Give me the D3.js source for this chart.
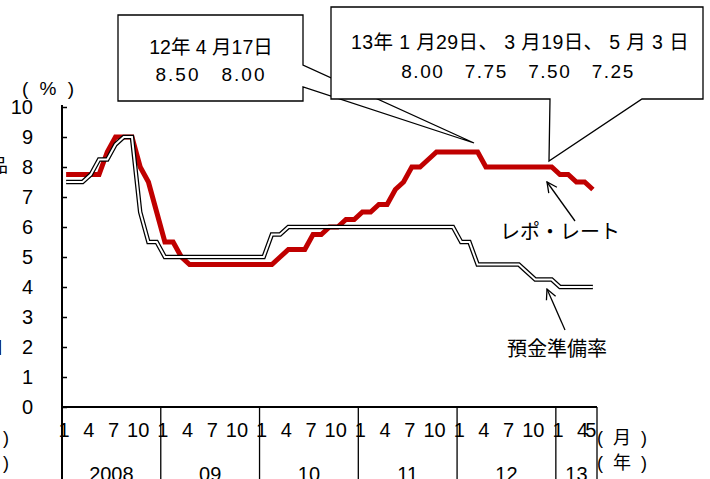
<!DOCTYPE html>
<html lang="ja">
<head>
  <meta charset="UTF-8">
  <title>レポ・レートと預金準備率</title>
  <style>
    body { margin: 0; background: #fff; }
    svg text { font-family: "Liberation Sans", Arial, "Noto Sans CJK JP", sans-serif; fill: #000; }
  </style>
</head>
<body>
  <div id="chart"></div>
  <script src="https://d3js.org/d3.v7.min.js"></script>
  <script>
    // monthly data, 2008/1 - 2013/5
    const years = ["2008", "09", "10", "11", "12", "13"];
    const monthTicks = [1, 4, 7, 10];
    const yTicks = [0, 1, 2, 3, 4, 5, 6, 7, 8, 9, 10];

    const repoRate = [
      7.75, 7.75, 7.75, 7.75, 7.75, 8.5, 9, 9, 9, 8, 7.5, 6.5,
      5.5, 5.5, 5, 4.75, 4.75, 4.75, 4.75, 4.75, 4.75, 4.75, 4.75, 4.75,
      4.75, 4.75, 5, 5.25, 5.25, 5.25, 5.75, 5.75, 6, 6, 6.25, 6.25,
      6.5, 6.5, 6.75, 6.75, 7.25, 7.5, 8, 8, 8.25, 8.5, 8.5, 8.5,
      8.5, 8.5, 8.5, 8, 8, 8, 8, 8, 8, 8, 8, 8,
      7.75, 7.75, 7.5, 7.5, 7.25
    ];
    const reserveRatio = [
      7.5, 7.5, 7.5, 7.75, 8.25, 8.25, 8.75, 9, 9, 6.5, 5.5, 5.5,
      5, 5, 5, 5, 5, 5, 5, 5, 5, 5, 5, 5,
      5, 5.75, 5.75, 6, 6, 6, 6, 6, 6, 6, 6, 6,
      6, 6, 6, 6, 6, 6, 6, 6, 6, 6, 6, 6,
      5.5, 5.5, 4.75, 4.75, 4.75, 4.75, 4.75, 4.75, 4.5, 4.25, 4.25, 4.25,
      4, 4, 4, 4, 4
    ];

    // build month list
    const months = repoRate.map((d, i) => ({ i: i, year: Math.floor(i / 12), month: i % 12 + 1 }));

    const width = 710, height = 479;
    const svg = d3.select("#chart").append("svg")
      .attr("width", width)
      .attr("height", height);

    const x = d3.scaleBand()
      .domain(months.map(d => d.i))
      .range([62, 597]);
    const y = d3.scaleLinear()
      .domain([0, 10])
      .range([407, 107]);
    const cx = i => x(i) + x.bandwidth() / 2;

    // y axis
    const yAxis = svg.append("g")
      .attr("transform", "translate(62,0)")
      .call(d3.axisRight(y).tickValues(yTicks).tickSize(5).tickFormat(""));
    yAxis.select(".domain").remove();
    yAxis.selectAll(".tick line").attr("stroke", "#000").attr("stroke-width", 1.5);

    svg.append("line")
      .attr("x1", 62).attr("x2", 62)
      .attr("y1", 105).attr("y2", height)
      .attr("stroke", "#000").attr("stroke-width", 2);

    svg.append("g").selectAll("text")
      .data(yTicks)
      .enter().append("text")
      .attr("x", 33)
      .attr("y", d => y(d) + 7)
      .attr("text-anchor", "end")
      .style("font-size", "20px")
      .text(d => d);

    svg.append("text")
      .attr("x", 22).attr("y", 95)
      .style("font-size", "19px")
      .style("letter-spacing", "3px")
      .text("( % )");

    // x axis: month labels and year blocks
    svg.append("line")
      .attr("x1", 62).attr("x2", 597)
      .attr("y1", y(0)).attr("y2", y(0))
      .attr("stroke", "#000").attr("stroke-width", 2);

    const yearStarts = years.map((d, k) => x(k * 12));
    const yearEnds = years.map((d, k) => k < years.length - 1 ? x((k + 1) * 12) : x.range()[1]);

    svg.append("g").selectAll("line")
      .data(yearStarts.concat([x.range()[1]]))
      .enter().append("line")
      .attr("x1", d => d).attr("x2", d => d)
      .attr("y1", y(0)).attr("y2", height)
      .attr("stroke", "#000").attr("stroke-width", 1.3);

    const monthLabels = months.filter(d => monthTicks.includes(d.month) || d.i === months.length - 1);
    svg.append("g").selectAll("text")
      .data(monthLabels)
      .enter().append("text")
      .attr("x", d => cx(d.i) - 2)
      .attr("y", 437)
      .attr("text-anchor", "middle")
      .style("font-size", "20px")
      .text(d => d.month);

    svg.append("g").selectAll("text")
      .data(years)
      .enter().append("text")
      .attr("x", (d, k) => (yearStarts[k] + yearEnds[k]) / 2)
      .attr("y", 481)
      .attr("text-anchor", "middle")
      .style("font-size", "20px")
      .text(d => d);

    svg.append("text").attr("x", 597).attr("y", 444).style("font-size", "18px")
      .style("letter-spacing", "2.5px").text("( 月 )");
    svg.append("text").attr("x", 597).attr("y", 469).style("font-size", "18px")
      .style("letter-spacing", "2.5px").text("( 年 )");

    // bits of the neighbouring chart cut off at the left edge
    svg.append("text").attr("x", 8).attr("y", 172).attr("text-anchor", "end").style("font-size", "18px").text("品");
    svg.append("text").attr("x", 3).attr("y", 354).attr("text-anchor", "end").style("font-size", "18px").text("口");
    svg.append("text").attr("x", 9).attr("y", 444).attr("text-anchor", "end").style("font-size", "18px").text("( 月 )");
    svg.append("text").attr("x", 9).attr("y", 469).attr("text-anchor", "end").style("font-size", "18px").text("( 年 )");

    // lines
    const line = d3.line()
      .x((d, i) => cx(i))
      .y(d => y(d));

    svg.append("path")
      .datum(repoRate)
      .attr("fill", "none")
      .attr("stroke", "#c00000")
      .attr("stroke-width", 5)
      .attr("d", line);

    svg.append("path")
      .datum(reserveRatio)
      .attr("fill", "none")
      .attr("stroke", "#000")
      .attr("stroke-width", 4.5)
      .attr("d", line);
    svg.append("path")
      .datum(reserveRatio)
      .attr("fill", "none")
      .attr("stroke", "#fff")
      .attr("stroke-width", 2)
      .attr("d", line);

    // callouts
    svg.append("path")
      .attr("d", "M118,15 H303 V65 L474,143 L303,87 V101 H118 Z")
      .attr("fill", "#fff").attr("stroke", "#000").attr("stroke-width", 1.3);
    svg.append("text").attr("x", 211).attr("y", 54).attr("text-anchor", "middle")
      .style("font-size", "19.5px").text("12年 4 月17日");
    svg.append("text").attr("x", 211).attr("y", 81).attr("text-anchor", "middle")
      .style("font-size", "19px").style("letter-spacing", "2px").text("8.50　8.00");

    svg.append("path")
      .attr("d", "M331,7 H703 V99 H642 L549,161 L550,99 H331 Z")
      .attr("fill", "#fff").attr("stroke", "#000").attr("stroke-width", 1.3);
    svg.append("text").attr("x", 520).attr("y", 49).attr("text-anchor", "middle")
      .style("font-size", "19.5px").style("letter-spacing", "0.4px").text("13年 1 月29日、 3 月19日、 5 月 3 日");
    svg.append("text").attr("x", 518).attr("y", 78).attr("text-anchor", "middle")
      .style("font-size", "19px").style("letter-spacing", "1.5px").text("8.00　7.75　7.50　7.25");

    // arrows with labels
    svg.append("defs").append("marker")
      .attr("id", "head")
      .attr("viewBox", "0 0 12 12")
      .attr("refX", 11).attr("refY", 6)
      .attr("markerWidth", 12).attr("markerHeight", 12)
      .attr("markerUnits", "userSpaceOnUse")
      .attr("orient", "auto")
      .append("path")
      .attr("d", "M1,1 L11,6 L1,11")
      .attr("fill", "none").attr("stroke", "#000").attr("stroke-width", 1.3);

    const arrows = [
      { x1: 575, y1: 221, x2: 547, y2: 182, label: "レポ・レート", lx: 500, ly: 239 },
      { x1: 565, y1: 330, x2: 547, y2: 289, label: "預金準備率", lx: 507, ly: 356 }
    ];
    arrows.forEach(a => {
      svg.append("line")
        .attr("x1", a.x1).attr("y1", a.y1).attr("x2", a.x2).attr("y2", a.y2)
        .attr("stroke", "#000").attr("stroke-width", 1.3)
        .attr("marker-end", "url(#head)");
      svg.append("text").attr("x", a.lx).attr("y", a.ly)
        .style("font-size", "20px").text(a.label);
    });
  </script>
</body>
</html>
